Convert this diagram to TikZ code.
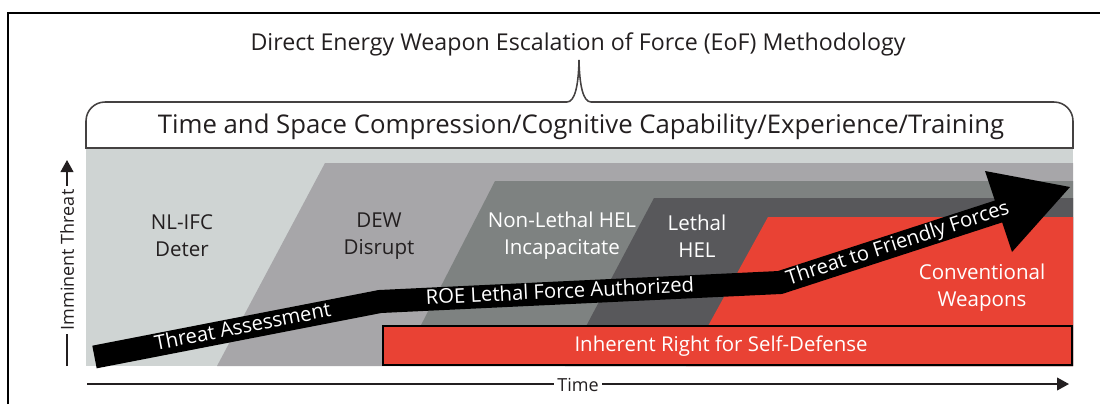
\documentclass[tikz,border=0pt]{standalone}
\usepackage{fontspec}
\setmainfont{Open Sans}
\usetikzlibrary{arrows.meta}

\definecolor{bandA}{HTML}{CFD4D3}
\definecolor{bandB}{HTML}{A7A6A9}
\definecolor{bandC}{HTML}{7E8281}
\definecolor{bandD}{HTML}{58585B}
\definecolor{eofred}{HTML}{E94234}
\definecolor{ink}{HTML}{231F20}

\tikzset{
  zone/.style={align=center,font=\fontsize{14.6}{19.2}\selectfont,text=ink},
  zonelight/.style={zone,text=white},
  arrowtext/.style={font=\fontsize{14.4}{16}\selectfont,text=white,sloped,inner sep=0pt,
    text height=1.4ex,text depth=0pt},
  axislbl/.style={font=\fontsize{12.8}{15}\selectfont,text=ink,inner sep=2.5pt},
  axisline/.style={line width=1.1pt,ink},
  axistip/.style={axisline,-{Triangle[length=3mm,width=3.2mm]}}
}

\begin{document}
\begin{tikzpicture}[x=0.025cm,y=-0.025cm]
\useasboundingbox (0,0) rectangle (1100,404);
\draw[line width=1.2pt] (8,404) -- (8,13) -- (1100,13);

\fill[bandA] (86,148) rectangle (1073,366);
\fill[bandB] (217,366) -- (325,163) -- (1073,163) -- (1073,366) -- cycle;
\fill[bandC] (400,366) -- (495,181) -- (1073,181) -- (1073,366) -- cycle;
\fill[bandD] (565,366) -- (654,198) -- (1073,198) -- (1073,366) -- cycle;
\fill[eofred] (686,366) -- (768,217) -- (1073,217) -- (1073,366) -- cycle;

\draw[line width=1.1pt,draw=ink!85,fill=white] (86,148) -- (86,121)
  .. controls (86,110.5) and (94.5,102) .. (105,102) -- (567,102)
  .. controls (575,102) and (578.5,85) .. (579,60)
  .. controls (579.5,85) and (583,102) .. (591,102) -- (1054,102)
  .. controls (1064.5,102) and (1073,110.5) .. (1073,121) -- (1073,148) -- cycle;

\node[font=\fontsize{16.5}{20}\selectfont,text=ink,anchor=base] (title) at (578,50)
  {Direct Energy Weapon Escalation of Force (EoF) Methodology};
\node[font=\fontsize{18.3}{22}\selectfont,text=ink,anchor=base] (compress) at (581,133)
  {Time and Space Compression/Cognitive Capability/Experience/Training};

\node[zone] (deter) at (182,236) {NL-IFC\\Deter};
\node[zone] (disrupt) at (379,236) {DEW\\Disrupt};
\node[zonelight] (incap) at (562,236) {Non-Lethal HEL\\Incapacitate};
\node[zonelight] (lethal) at (697,236) {Lethal\\HEL};
\node[zonelight] (conv) at (982,288) {Conventional\\Weapons};

\draw[line width=1.1pt,fill=eofred] (383,326) rectangle (1072,365);
\node[font=\fontsize{14.5}{16}\selectfont,text=white] (selfdef) at (721,346)
  {Inherent Right for Self-Defense};

\coordinate (a0) at (94.5,357);
\coordinate (a1) at (380,301.5);
\coordinate (a2) at (780,282.5);
\coordinate (a3) at (998.5,211.5);
\coordinate (a4) at (1003,210);
\coordinate (tip) at (1070,187);
\coordinate (hu) at (985,171);
\coordinate (hl) at (1012,252);
\draw[line width=16.4pt,line join=miter] (a0) -- (a1) -- (a2) -- (a4);
\fill (hu) -- (tip) -- (hl) -- cycle;
\path (a0) -- node[arrowtext,pos=0.52] (assess) {Threat Assessment} (a1);
\path (a1) -- node[arrowtext,pos=0.45] (roe) {ROE Lethal Force Authorized} (a2);
\path (a2) -- node[arrowtext,pos=0.54] (friendly) {Threat to Friendly Forces} (a3);

\node[axislbl,rotate=90] (threat) at (67,260) {Imminent Threat};
\coordinate (threatlo) at (67,366);
\coordinate (threathi) at (67,160);
\draw[axisline] (threatlo) -- (threat.west);
\draw[axistip] (threat.east) -- (threathi);

\node[axislbl] (time) at (578,385) {Time};
\coordinate (timelo) at (87,384);
\coordinate (timehi) at (1069,384);
\draw[axisline] (timelo) -- (time.west |- timelo);
\draw[axistip] (time.east |- timehi) -- (timehi);
\end{tikzpicture}
\end{document}
